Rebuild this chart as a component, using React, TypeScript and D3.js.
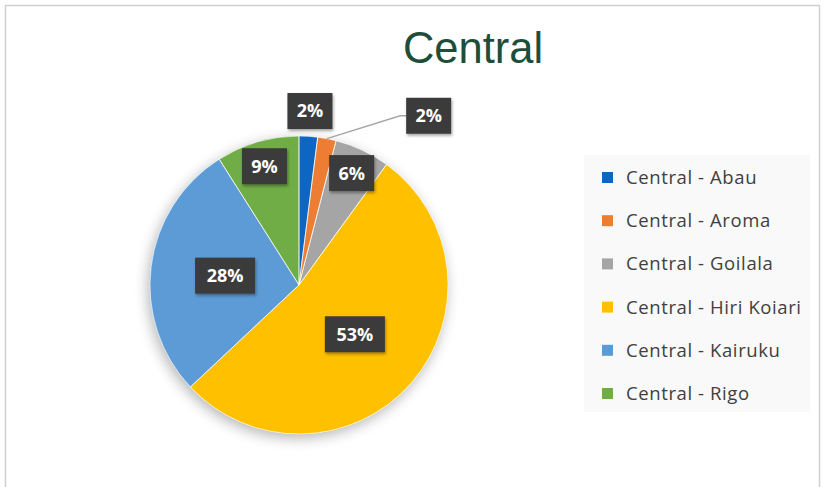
import React from "react";
import * as d3 from "d3";

const categories = [
  "Central - Abau",
  "Central - Aroma",
  "Central - Goilala",
  "Central - Hiri Koiari",
  "Central - Kairuku",
  "Central - Rigo",
];
const values = [2, 2, 6, 53, 28, 9];
const colors = ["#0a66c2", "#ed7d31", "#a5a5a5", "#ffc000", "#5b9bd5", "#70ad47"];
const title = "Central";

const W = 825;
const H = 487;
const cx = 299;
const cy = 285;
const R = 149;

export default function App() {
  const total = d3.sum(values);
  const pie = d3
    .pie<number>()
    .sort(null)
    .value((d) => d)
    .startAngle(0)
    .endAngle(2 * Math.PI);
  const arcs = pie(values);
  const arc = d3.arc<d3.PieArcDatum<number>>().innerRadius(0).outerRadius(R);

  const polar = (a: number, r: number) => [cx + r * Math.sin(a), cy - r * Math.cos(a)];

  type Lab = { x: number; y: number; w: number; h: number; text: string; leader?: number[][] };
  const labels: Lab[] = [];
  let prevOutside: Lab | null = null;
  arcs.forEach((a) => {
    const pct = Math.round((a.value / total) * 100);
    const text = pct + "%";
    const mid = (a.startAngle + a.endAngle) / 2;
    const w = 15 * text.length + 15;
    const h = 36;
    let f = 0.5;
    if (pct < 20) f = 0.83;
    if (pct < 5) f = 1.17;
    let [x, y] = polar(mid, R * f);
    const lab: Lab = { x, y, w, h, text };
    if (f > 1) {
      if (prevOutside && Math.abs(prevOutside.x - x) < (prevOutside.w + w) / 2) {
        const [ex, ey] = polar(mid, R);
        lab.x = x + 97;
        lab.y = y + 2;
        const left = lab.x - w / 2;
        lab.leader = [
          [ex, ey],
          [left - 6, lab.y],
          [left, lab.y],
        ];
      }
      prevOutside = lab;
    }
    labels.push(lab);
  });

  const line = d3.line();

  return (
    <svg
      width={W}
      height={H}
      style={{ position: "absolute", left: 0, top: 0, background: "#fff" }}
    >
      <defs>
        <filter id="pieShadow" x="-20%" y="-20%" width="140%" height="140%">
          <feGaussianBlur in="SourceAlpha" stdDeviation="7" />
          <feOffset dx="-2" dy="4" result="b" />
          <feComponentTransfer>
            <feFuncA type="linear" slope="0.3" />
          </feComponentTransfer>
          <feMerge>
            <feMergeNode />
            <feMergeNode in="SourceGraphic" />
          </feMerge>
        </filter>
        <filter id="boxShadow" x="-30%" y="-30%" width="160%" height="160%">
          <feGaussianBlur in="SourceAlpha" stdDeviation="1.5" />
          <feOffset dx="1" dy="1.5" />
          <feComponentTransfer>
            <feFuncA type="linear" slope="0.35" />
          </feComponentTransfer>
          <feMerge>
            <feMergeNode />
            <feMergeNode in="SourceGraphic" />
          </feMerge>
        </filter>
      </defs>
      {/* outer border */}
      <rect x={5.5} y={5.5} width={814} height={490} fill="none" stroke="#d0d0d0" strokeWidth={1.5} />

      <text
        x={473}
        y={63}
        textAnchor="middle"
        fontFamily="'Liberation Sans', Arial, sans-serif"
        fontSize={43.5}
        fill="#1e4d3a"
      >
        {title}
      </text>

      <g filter="url(#pieShadow)">
        {arcs.map((a, i) => (
          <path key={i} d={arc(a) || ""} transform={`translate(${cx},${cy})`} fill={colors[i]} />
        ))}
      </g>
      {arcs.map((a, i) => (
        <path
          key={"s" + i}
          d={arc(a) || ""}
          transform={`translate(${cx},${cy})`}
          fill="none"
          stroke="#fff"
          strokeWidth={0.6}
        />
      ))}

      {labels.map((l, i) =>
        l.leader ? (
          <path key={"ld" + i} d={line(l.leader as [number, number][]) || ""} fill="none" stroke="#a6a6a6" strokeWidth={1.5} />
        ) : null
      )}
      {labels.map((l, i) => (
        <g key={"l" + i}>
          <rect
            x={l.x - l.w / 2}
            y={l.y - l.h / 2}
            width={l.w}
            height={l.h}
            fill="#3a3a3a"
            filter="url(#boxShadow)"
          />
          <text
            x={l.x}
            y={l.y}
            dy="0.36em"
            textAnchor="middle"
            fontFamily="'Open Sans', sans-serif"
            fontWeight="bold"
            fontSize={18}
            fill="#ffffff"
          >
            {l.text}
          </text>
        </g>
      ))}

      <rect x={584} y={155} width={226} height={257} fill="#f9f9f9" />
      {categories.map((c, i) => {
        const y = 177.5 + i * 43.2;
        return (
          <g key={"lg" + i}>
            <rect x={602} y={y - 5.5} width={11} height={11} fill={colors[i]} />
            <text
              x={626}
              y={y}
              dy="0.35em"
              fontFamily="'Open Sans', sans-serif"
              fontSize={18.5}
              letterSpacing={0.6}
              fill="#404040"
            >
              {c}
            </text>
          </g>
        );
      })}
    </svg>
  );
}
